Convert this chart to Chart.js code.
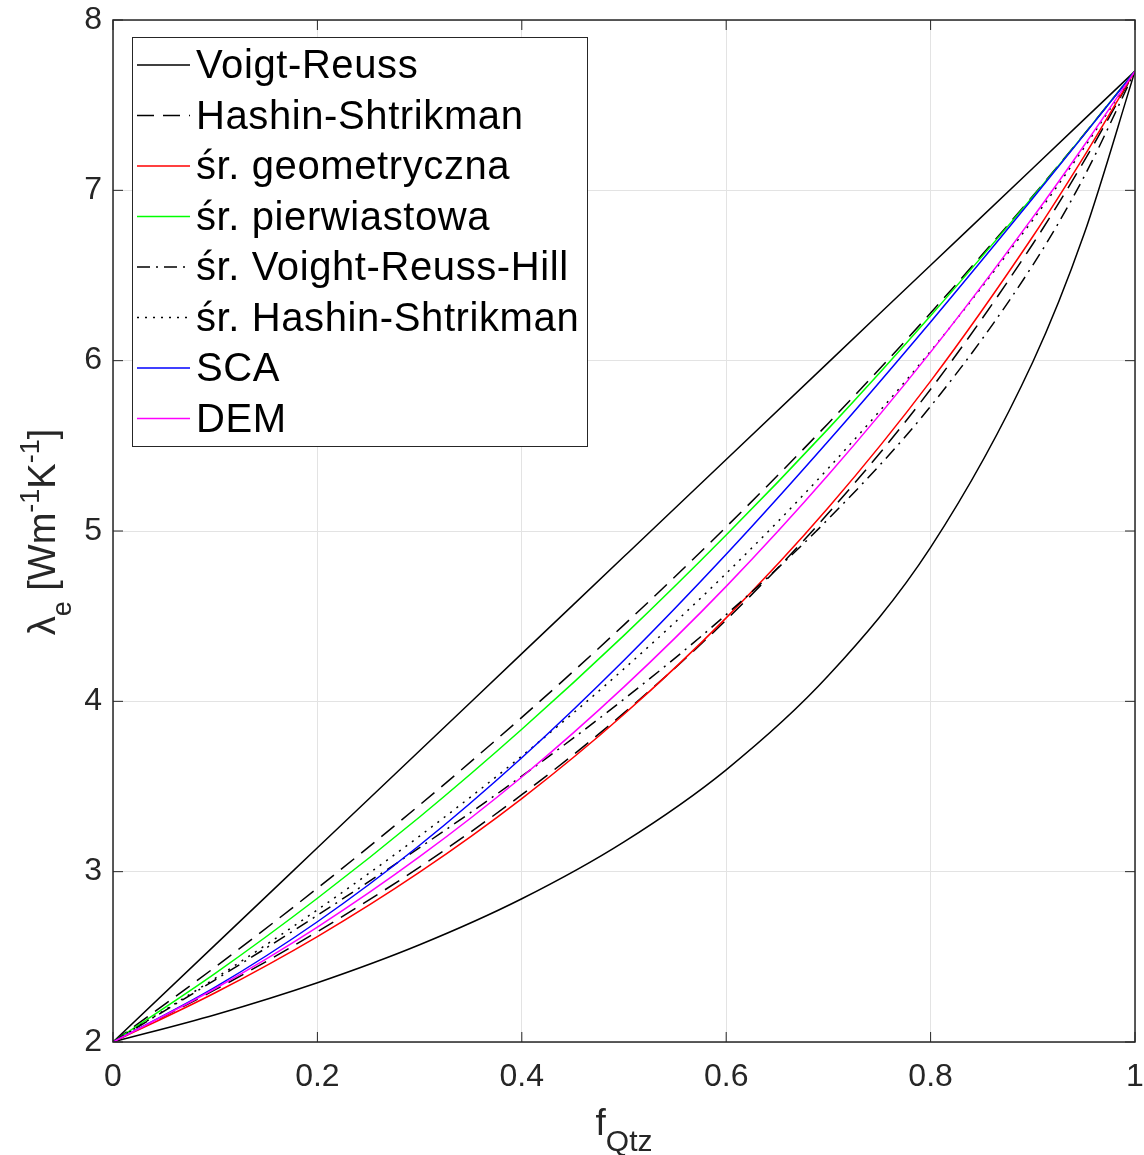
<!DOCTYPE html>
<html><head><meta charset="utf-8">
<script src="https://cdn.jsdelivr.net/npm/chart.js@4.4.0/dist/chart.umd.min.js"></script>
<style>html,body{margin:0;padding:0;background:#fff}#wrap{width:1144px;height:1155px}</style>
</head><body><div id="wrap"><canvas id="c" width="1144" height="1155"></canvas></div>
<script>
// ---- data ----
const fQtz       = [0, 0.1, 0.2, 0.3, 0.4, 0.5, 0.6, 0.7, 0.8, 0.9, 0.95, 1];
const voigt      = [2, 2.570, 3.140, 3.710, 4.280, 4.850, 5.420, 5.990, 6.560, 7.130, 7.415, 7.7];
const reuss      = [2, 2.160, 2.348, 2.571, 2.841, 3.175, 3.598, 4.151, 4.904, 5.992, 6.740, 7.7];
const hsUpper    = [2, 2.440, 2.903, 3.391, 3.906, 4.449, 5.024, 5.633, 6.280, 6.967, 7.328, 7.7];
const hsLower    = [2, 2.307, 2.648, 3.027, 3.452, 3.932, 4.478, 5.105, 5.832, 6.685, 7.170, 7.7];
const geometric  = [2, 2.289, 2.619, 2.997, 3.429, 3.924, 4.490, 5.138, 5.880, 6.729, 7.198, 7.7];
const squareRoot = [2, 2.403, 2.844, 3.321, 3.836, 4.387, 4.976, 5.601, 6.264, 6.963, 7.327, 7.7];
const vrhMean    = [2, 2.365, 2.744, 3.141, 3.561, 4.013, 4.509, 5.071, 5.732, 6.561, 7.078, 7.7];
const hsMean     = [2, 2.374, 2.776, 3.209, 3.679, 4.191, 4.751, 5.369, 6.056, 6.826, 7.249, 7.7];
const sca        = [2, 2.322, 2.706, 3.155, 3.669, 4.241, 4.863, 5.528, 6.227, 6.953, 7.324, 7.7];
const dem        = [2, 2.314, 2.675, 3.088, 3.556, 4.085, 4.675, 5.330, 6.050, 6.841, 7.262, 7.7];
const xTicks = [0, 0.2, 0.4, 0.6, 0.8, 1];
const yTicks = [2, 3, 4, 5, 6, 7, 8];
const xTickLabels = ['0', '0.2', '0.4', '0.6', '0.8', '1'];
const yTickLabels = ['2', '3', '4', '5', '6', '7', '8'];
const legendLabels = ['Voigt-Reuss', 'Hashin-Shtrikman', 'śr. geometryczna', 'śr. pierwiastowa',
                      'śr. Voight-Reuss-Hill', 'śr. Hashin-Shtrikman', 'SCA', 'DEM'];

// ---- styles ----
const AX = '#262626';
const FONT = '"Liberation Sans", Arial, Helvetica, sans-serif';
const styles = {
  solidK:  {color: '#000000', dash: []},
  dashed:  {color: '#000000', dash: [17, 9]},
  red:     {color: '#ff0000', dash: []},
  green:   {color: '#00ff00', dash: []},
  dashdot: {color: '#000000', dash: [13, 6, 2, 6]},
  dotted:  {color: '#000000', dash: [2, 6]},
  blue:    {color: '#0000ff', dash: []},
  magenta: {color: '#ff00ff', dash: []}
};
const legendStyles = ['solidK', 'dashed', 'red', 'green', 'dashdot', 'dotted', 'blue', 'magenta'];

const series = [
  {vals: voigt, st: 'solidK'}, {vals: reuss, st: 'solidK'},
  {vals: hsUpper, st: 'dashed'}, {vals: hsLower, st: 'dashed'},
  {vals: geometric, st: 'red'}, {vals: squareRoot, st: 'green'},
  {vals: vrhMean, st: 'dashdot'}, {vals: hsMean, st: 'dotted'},
  {vals: sca, st: 'blue'}, {vals: dem, st: 'magenta'}
];
const datasets = series.map((s, i) => ({
  data: fQtz.map((x, j) => ({x: x, y: s.vals[j]})),
  borderColor: styles[s.st].color,
  borderDash: styles[s.st].dash,
  borderWidth: 1.5,
  pointRadius: 0,
  fill: false,
  cubicInterpolationMode: 'monotone',
  order: 20 - i
}));

function seg(ctx, x1, y1, x2, y2) { ctx.beginPath(); ctx.moveTo(x1, y1); ctx.lineTo(x2, y2); ctx.stroke(); }

function measureRuns(ctx, runs) {
  let w = 0;
  runs.forEach(r => { ctx.font = r[1] + 'px ' + FONT; r.w = ctx.measureText(r[0]).width; w += r.w; });
  return w;
}

const framePlugin = {
  id: 'frame',
  afterDatasetsDraw(chart) {
    const {ctx, chartArea: a, scales: {x, y}} = chart;
    ctx.save();
    ctx.setLineDash([]);
    ctx.strokeStyle = AX;
    ctx.lineWidth = 1;
    const L = 10;
    xTicks.forEach(v => { const p = x.getPixelForValue(v);
      seg(ctx, p, a.bottom, p, a.bottom - L); seg(ctx, p, a.top, p, a.top + L); });
    yTicks.forEach(v => { const p = y.getPixelForValue(v);
      seg(ctx, a.left, p, a.left + L, p); seg(ctx, a.right, p, a.right - L, p); });
    ctx.lineWidth = 1.5;
    ctx.strokeRect(a.left, a.top, a.right - a.left, a.bottom - a.top);
    ctx.restore();
  },
  afterDraw(chart) {
    const {ctx} = chart;
    ctx.save();
    // legend
    const bx = 132, by = 37, bw = 455, bh = 409;
    ctx.fillStyle = '#ffffff';
    ctx.fillRect(bx, by, bw, bh);
    ctx.strokeStyle = AX; ctx.lineWidth = 1;
    ctx.strokeRect(bx + 0.5, by + 0.5, bw, bh);
    const rowY0 = 65, rowStep = 50.5;
    ctx.font = '40px ' + FONT;
    ctx.letterSpacing = '0.6px';
    ctx.textBaseline = 'middle';
    ctx.textAlign = 'left';
    legendLabels.forEach((lab, i) => {
      const yy = rowY0 + i * rowStep;
      const st = styles[legendStyles[i]];
      ctx.strokeStyle = st.color; ctx.lineWidth = 1.5; ctx.setLineDash(st.dash);
      seg(ctx, 137, yy, 190, yy);
      ctx.setLineDash([]);
      ctx.fillStyle = '#000000';
      ctx.fillText(lab, 196, yy + 2);
    });
    ctx.letterSpacing = '0px';
    // x title: f_Qtz
    ctx.fillStyle = AX;
    ctx.textBaseline = 'alphabetic';
    const xr = [['f', 37, 0], ['Qtz', 30, 16]];
    const xw = measureRuns(ctx, xr);
    let cx = 624 - xw / 2;
    xr.forEach(r => { ctx.font = r[1] + 'px ' + FONT; ctx.fillText(r[0], cx, 1135 + r[2]); cx += r.w; });
    // y title: λ_e [Wm^-1 K^-1]
    const yr = [['λ', 38, 0], ['e', 27, 16], [' [Wm', 38, 0], ['-1', 27, -16], ['K', 38, 0], ['-1', 27, -16], [']', 38, 0]];
    const yw = measureRuns(ctx, yr);
    ctx.translate(55, 532);
    ctx.rotate(-Math.PI / 2);
    let cy = -yw / 2;
    yr.forEach(r => { ctx.font = r[1] + 'px ' + FONT; ctx.fillText(r[0], cy, r[2]); cy += r.w; });
    ctx.restore();
  }
};

new Chart(document.getElementById('c'), {
  type: 'line',
  data: {datasets: datasets},
  options: {
    responsive: false,
    animation: false,
    devicePixelRatio: 1,
    layout: {padding: {top: 20, right: 9, left: 0, bottom: 0}},
    plugins: {legend: {display: false}, tooltip: {enabled: false}, title: {display: false}},
    elements: {line: {tension: 0}},
    scales: {
      x: {
        type: 'linear', min: 0, max: 1,
        afterBuildTicks: s => { s.ticks = xTicks.map(v => ({value: v})); },
        afterFit: s => { s.height = 113; s.paddingLeft = 0; s.paddingRight = 0; },
        ticks: {color: AX, font: {family: FONT, size: 32}, padding: 16, maxRotation: 0,
                callback: (v) => xTickLabels[xTicks.indexOf(v)] ?? ''},
        grid: {color: '#e3e3e3', lineWidth: 1, drawTicks: false},
        border: {display: false}
      },
      y: {
        type: 'linear', min: 2, max: 8,
        afterBuildTicks: s => { s.ticks = yTicks.map(v => ({value: v})); },
        afterFit: s => { s.width = 113; s.paddingTop = 0; s.paddingBottom = 0; },
        ticks: {color: AX, font: {family: FONT, size: 32}, padding: 11,
                callback: (v) => yTickLabels[yTicks.indexOf(v)] ?? ''},
        grid: {color: '#e3e3e3', lineWidth: 1, drawTicks: false},
        border: {display: false}
      }
    }
  },
  plugins: [framePlugin]
});
</script>
</body></html>
